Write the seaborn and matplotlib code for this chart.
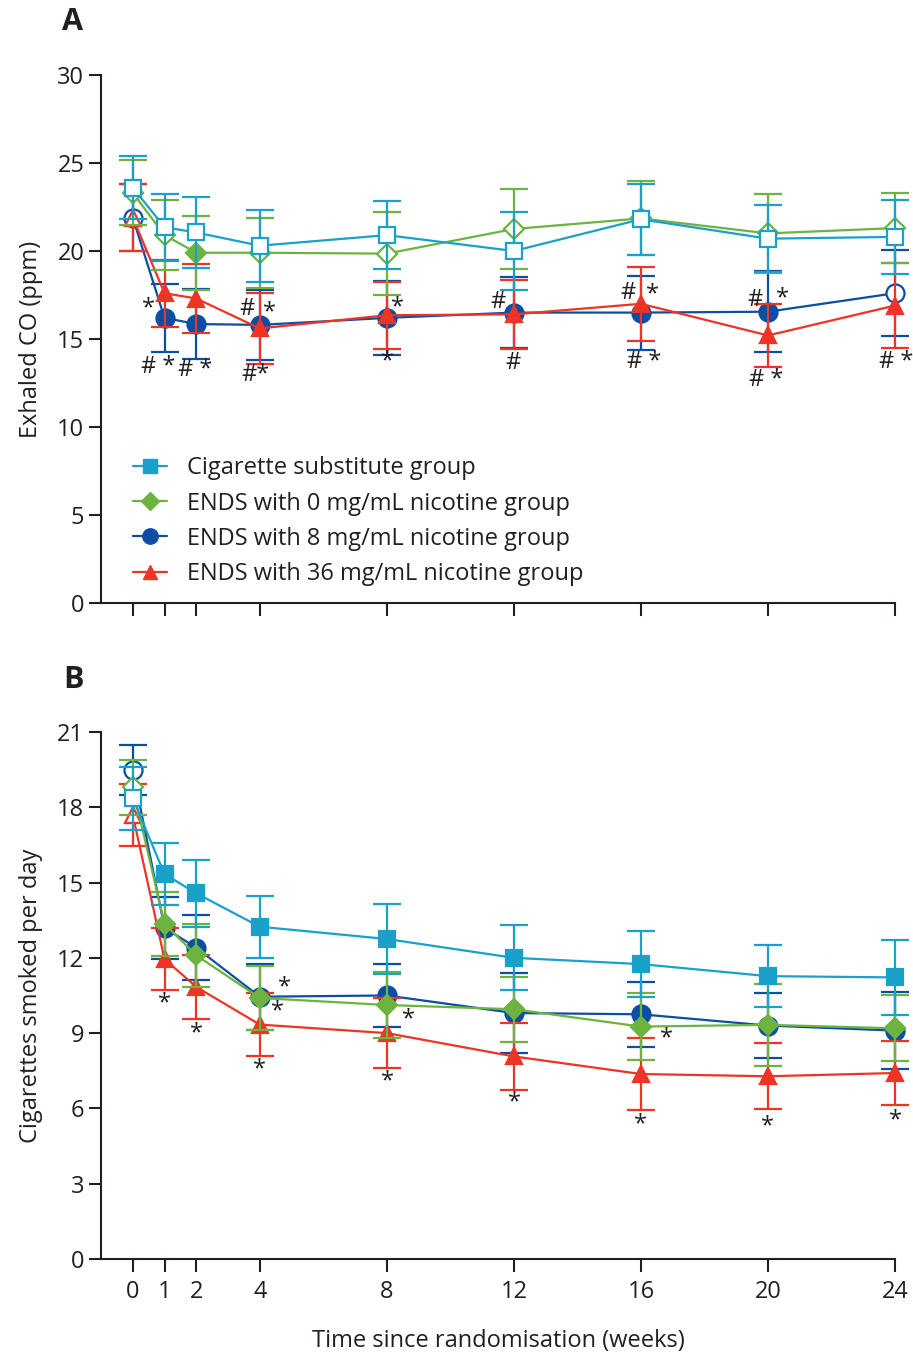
import numpy as np
import pandas as pd
import matplotlib
matplotlib.use("Agg")
import matplotlib.pyplot as plt
import seaborn as sns
from matplotlib.lines import Line2D

# ---------------- data ----------------
weeks = [0, 1, 2, 4, 8, 12, 16, 20, 24]
groups = ["Cigarette substitute group",
          "ENDS with 0 mg/mL nicotine group",
          "ENDS with 8 mg/mL nicotine group",
          "ENDS with 36 mg/mL nicotine group"]
colors = ["#19A1C9", "#6CB33F", "#0B4EA2", "#EE3425"]
markers = ["s", "D", "o", "^"]

# Panel A: exhaled CO (ppm)
co_cig = [23.6, 21.35, 21.05, 20.3, 20.9, 20.0, 21.8, 20.7, 20.8]
co_cig_err = [1.8, 1.9, 2.0, 2.05, 1.95, 2.2, 2.0, 1.9, 2.1]
co_0 = [23.3, 20.9, 19.9, 19.9, 19.85, 21.25, 21.85, 21.0, 21.3]
co_0_err = [1.85, 2.0, 2.1, 2.0, 2.35, 2.25, 2.1, 2.25, 2.0]
co_8 = [21.9, 16.2, 15.85, 15.8, 16.2, 16.5, 16.5, 16.55, 17.6]
co_8_err = [1.9, 1.95, 2.0, 2.0, 2.1, 2.0, 2.1, 2.3, 2.45]
co_36 = [21.9, 17.6, 17.3, 15.6, 16.35, 16.4, 17.0, 15.2, 16.9]
co_36_err = [1.9, 1.9, 1.95, 2.0, 1.9, 1.95, 2.1, 1.8, 2.4]
# filled (1) / open (0) markers
co_cig_fill = [0, 0, 0, 0, 0, 0, 0, 0, 0]
co_0_fill = [0, 0, 1, 0, 0, 0, 0, 0, 0]
co_8_fill = [0, 1, 1, 1, 1, 1, 1, 1, 0]
co_36_fill = [0, 1, 1, 1, 1, 1, 1, 1, 1]

# Panel B: cigarettes smoked per day
cpd_cig = [18.35, 15.34, 14.57, 13.24, 12.75, 12.0, 11.75, 11.27, 11.22]
cpd_cig_err = [1.25, 1.22, 1.33, 1.23, 1.41, 1.3, 1.33, 1.24, 1.48]
cpd_0 = [18.8, 13.35, 12.1, 10.4, 10.12, 9.95, 9.26, 9.33, 9.19]
cpd_0_err = [1.1, 1.27, 1.25, 1.28, 1.31, 1.3, 1.35, 1.64, 1.32]
cpd_8 = [19.5, 13.2, 12.4, 10.45, 10.5, 9.8, 9.75, 9.3, 9.1]
cpd_8_err = [1.0, 1.23, 1.3, 1.32, 1.26, 1.6, 1.3, 1.28, 1.52]
cpd_36 = [17.7, 11.95, 10.84, 9.34, 9.0, 8.07, 7.37, 7.28, 7.41]
cpd_36_err = [1.24, 1.24, 1.28, 1.24, 1.39, 1.35, 1.45, 1.32, 1.28]
cpd_fill = [0, 1, 1, 1, 1, 1, 1, 1, 1]

# significance annotations (x, y, text)
ann_A = [(0.50, 16.76, "*"), (0.79, 13.41, "# *"), (1.96, 13.24, "# *"),
         (3.60, 16.7, "#"), (4.32, 16.53, "*"), (3.85, 12.95, "#*"),
         (8.35, 16.8, "*"), (8.01, 13.7, "*"),
         (11.51, 17.1, "#"), (11.98, 13.64, "#"),
         (15.58, 17.6, "#"), (16.37, 17.56, "*"), (16.10, 13.7, "# *"),
         (19.60, 17.2, "#"), (20.47, 17.3, "*"), (19.93, 12.67, "# *"),
         (24.03, 13.7, "# *")]
ann_B = [(1.01, 10.2, "*"), (2.02, 9.0, "*"),
         (4.79, 10.84, "*"), (4.57, 9.88, "*"), (4.00, 7.57, "*"),
         (8.67, 9.56, "*"), (8.01, 7.09, "*"), (12.02, 6.22, "*"),
         (16.81, 8.8, "*"), (15.99, 5.38, "*"), (19.99, 5.3, "*"),
         (24.03, 5.54, "*")]

# ---------------- style ----------------
sns.set_theme(style="ticks")
plt.rcParams['font.family'] = ['Open Sans', 'DejaVu Sans']
TXT = "#231F20"
FS = 17

ms_map = {"s": 12, "D": 10.5, "o": 13, "^": 12}
LW = 1.6

fig = plt.figure(figsize=(9.13, 13.53), dpi=100)
axA = fig.add_axes([0.1106, 0.5543, 0.8697, 0.3903])
axB = fig.add_axes([0.1106, 0.0695, 0.8697, 0.3895])

draw_order = [2, 3, 1, 0]  # dark blue, red, green, light blue


def draw_panel(ax, means, errs, fills):
    for k, gi in enumerate(draw_order):
        c = colors[gi]
        mk = markers[gi]
        z = 3 + k * 2
        df = pd.DataFrame({"week": weeks, "value": means[gi]})
        ax.errorbar(weeks, means[gi], yerr=errs[gi], fmt="none", ecolor=c,
                    elinewidth=LW, capsize=10, capthick=LW, zorder=z,
                    clip_on=False)
        sns.lineplot(data=df, x="week", y="value", ax=ax, color=c,
                     linewidth=LW, estimator=None, legend=False, zorder=z,
                     clip_on=False)
        f = np.array(fills[gi], dtype=bool)
        x = np.array(weeks)
        y = np.array(means[gi])
        ax.plot(x[f], y[f], linestyle="none", marker=mk, ms=ms_map[mk],
                mfc=c, mec=c, mew=LW, zorder=z + 1, clip_on=False)
        ax.plot(x[~f], y[~f], linestyle="none", marker=mk, ms=ms_map[mk],
                mfc="white", mec=c, mew=LW, zorder=z + 1, clip_on=False)


draw_panel(axA, [co_cig, co_0, co_8, co_36],
           [co_cig_err, co_0_err, co_8_err, co_36_err],
           [co_cig_fill, co_0_fill, co_8_fill, co_36_fill])
draw_panel(axB, [cpd_cig, cpd_0, cpd_8, cpd_36],
           [cpd_cig_err, cpd_0_err, cpd_8_err, cpd_36_err],
           [cpd_fill, cpd_fill, cpd_fill, cpd_fill])

for ax, ann in ((axA, ann_A), (axB, ann_B)):
    for x, y, t in ann:
        ax.text(x, y, t, ha="center", va="center", fontsize=FS, color=TXT,
                zorder=20)

for ax in (axA, axB):
    ax.set_xlim(-1, 24)
    ax.set_xticks(weeks)
    sns.despine(ax=ax)
    for s in ("left", "bottom"):
        ax.spines[s].set_linewidth(1.5)
        ax.spines[s].set_color(TXT)
    ax.tick_params(direction="out", length=9, width=1.5, color=TXT,
                   labelsize=FS, labelcolor=TXT, pad=3)
    ax.tick_params(axis="x", pad=6)
    ax.set_xlabel("")

axA.set_ylim(0, 30)
axA.set_yticks(range(0, 31, 5))
axA.set_xticklabels([])
axA.set_ylabel("Exhaled CO (ppm)", fontsize=FS, color=TXT, labelpad=10)

axB.set_ylim(0, 21)
axB.set_yticks(range(0, 22, 3))
axB.set_xticklabels([str(w) for w in weeks])
axB.set_ylabel("Cigarettes smoked per day", fontsize=FS, color=TXT, labelpad=10)
axB.set_xlabel("Time since randomisation (weeks)", fontsize=FS, color=TXT,
               labelpad=18)

handles = [Line2D([0], [0], color=colors[i], marker=markers[i],
                  ms=ms_map[markers[i]] * 0.85, mfc=colors[i], mec=colors[i],
                  lw=LW) for i in range(4)]
axA.legend(handles, groups, loc="upper left",
           bbox_to_anchor=(0.040, 0.2775), frameon=False, fontsize=FS,
           handlelength=1.44, handletextpad=0.85, labelspacing=0.47,
           borderpad=0, borderaxespad=0, labelcolor=TXT)

fig.text(72 / 913, 1 - 22 / 1353, "A", fontsize=22, fontweight="bold",
         ha="center", va="center", color=TXT)
fig.text(73 / 913, 1 - 680 / 1353, "B", fontsize=22, fontweight="bold",
         ha="center", va="center", color=TXT)

fig.savefig("out.png", dpi=100)
